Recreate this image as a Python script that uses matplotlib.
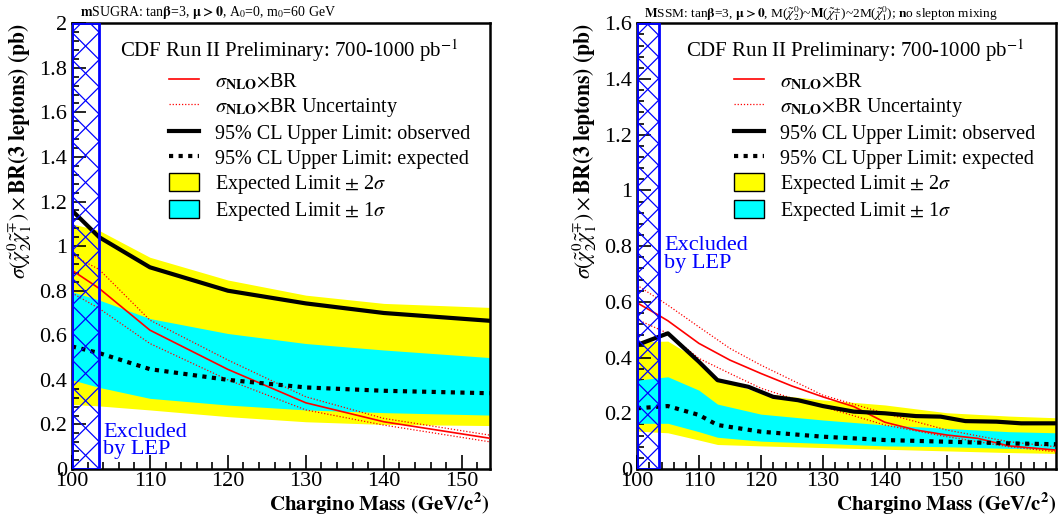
import numpy as np
import matplotlib
matplotlib.use("Agg")
import matplotlib.pyplot as plt
from matplotlib.patches import Rectangle, Patch
from matplotlib.lines import Line2D
from matplotlib.ticker import MultipleLocator

plt.rcParams['font.family'] = ['Liberation Serif', 'DejaVu Serif']
plt.rcParams['mathtext.fontset'] = 'stix'

# ---- left panel: mSUGRA ----
m_L = [100, 103.5, 110, 120, 130, 140, 153.6]
obs_L = [1.16, 1.04, 0.905, 0.80, 0.743, 0.70, 0.665]
exp_L = [0.55, 0.52, 0.448, 0.40, 0.366, 0.351, 0.34]
y2up_L = [1.10, 1.07, 0.95, 0.848, 0.78, 0.743, 0.725]
y2dn_L = [0.29, 0.283, 0.265, 0.235, 0.212, 0.20, 0.195]
c1up_L = [0.795, 0.758, 0.675, 0.608, 0.563, 0.534, 0.50]
c1dn_L = [0.40, 0.366, 0.317, 0.287, 0.265, 0.253, 0.242]
nlo_L = [0.892, 0.81, 0.623, 0.447, 0.297, 0.212, 0.138]
nloup_L = [0.96, 0.895, 0.668, 0.489, 0.324, 0.227, 0.152]
nlodn_L = [0.79, 0.72, 0.563, 0.40, 0.265, 0.197, 0.122]

# ---- right panel: MSSM ----
m_R = [100, 105, 110, 113, 118, 122, 126, 130, 135, 140, 145, 149, 153, 158, 162, 167.6]
obs_R = [0.445, 0.487, 0.385, 0.319, 0.295, 0.259, 0.247, 0.226, 0.206, 0.20, 0.19, 0.188, 0.172, 0.17, 0.164, 0.164]
m_Rb = [100, 105, 110, 113, 120, 130, 140, 150, 160, 167.6]
exp_R = [0.218, 0.226, 0.194, 0.158, 0.134, 0.116, 0.104, 0.098, 0.092, 0.089]
y2up_R = [0.457, 0.459, 0.391, 0.325, 0.272, 0.248, 0.23, 0.202, 0.19, 0.184]
y2dn_R = [0.136, 0.13, 0.104, 0.088, 0.083, 0.077, 0.071, 0.065, 0.059, 0.056]
c1up_R = [0.319, 0.331, 0.283, 0.233, 0.197, 0.176, 0.158, 0.146, 0.134, 0.13]
c1dn_R = [0.164, 0.164, 0.134, 0.114, 0.10, 0.092, 0.083, 0.08, 0.074, 0.071]
m_Rn = [100, 103.5, 105, 110, 115, 120, 125, 130, 135, 140, 145, 150, 155, 160, 167.6]
nlo_R = [0.597, 0.552, 0.532, 0.451, 0.391, 0.343, 0.298, 0.259, 0.224, 0.168, 0.14, 0.122, 0.11, 0.083, 0.068]
m_Ru = [100, 105, 110, 115, 120, 125, 130, 140, 150, 160, 167.6]
nloup_R = [0.66, 0.588, 0.51, 0.433, 0.373, 0.319, 0.265, 0.20, 0.14, 0.098, 0.08]
nlodn_R = [0.537, 0.487, 0.397, 0.343, 0.29, 0.254, 0.224, 0.158, 0.116, 0.08, 0.062]

lep_limit = 103.5

fig = plt.figure(figsize=(10.58, 5.22), dpi=100)
axL = fig.add_axes([0.068, 0.1015, 0.395, 0.854])
axR = fig.add_axes([0.602, 0.1015, 0.396, 0.854])

ylab = r'$\sigma(\tilde{\chi}^{0}_{2}\tilde{\chi}^{\mp}_{1})\times\mathbf{BR(3\ leptons)\ (pb)}$'
xlab = r'$\mathbf{Chargino\ Mass\ (GeV/c^{2})}$'
dot = (0, (1, 1.3))


def lep_box(ax, xmax, ymax):
    # blue cross-hatched band for the LEP exclusion, 45 degree lines
    bb = ax.get_position()
    wpx = bb.width * fig.get_figwidth() * fig.dpi
    hpx = bb.height * fig.get_figheight() * fig.dpi
    w = lep_limit - 100
    dy = w * (wpx / (xmax - 100)) / (hpx / ymax)
    rect = Rectangle((100, 0), w, ymax, facecolor='none', edgecolor='blue', lw=2, zorder=6)
    ax.add_patch(rect)
    y0 = -dy
    while y0 < ymax + dy:
        for ln in (ax.plot([100, lep_limit], [y0, y0 + dy], color='blue', lw=0.9, zorder=5),
                   ax.plot([100, lep_limit], [y0 + dy, y0], color='blue', lw=0.9, zorder=5)):
            ln[0].set_clip_path(rect)
        y0 += dy


def draw(ax, xmax, ymax, mb, y2u, y2d, c1u, c1d, mo, obs, me, exp, mn, nlo, mu, nup, ndn):
    ax.fill_between(mb, y2d, y2u, color='yellow', lw=0, zorder=1)
    ax.fill_between(mb, c1d, c1u, color='cyan', lw=0, zorder=2)
    ax.plot(mn, nlo, color='red', lw=1.2, zorder=3)
    ax.plot(mu, nup, color='red', lw=0.9, ls=(0, (1, 1.5)), zorder=3)
    ax.plot(mu, ndn, color='red', lw=0.9, ls=(0, (1, 1.5)), zorder=3)
    ax.plot(mo, obs, color='black', lw=3, zorder=4)
    ax.plot(me, exp, color='black', lw=3, ls=dot, zorder=4)
    ax.set_xlim(100, xmax)
    ax.set_ylim(0, ymax)
    lep_box(ax, xmax, ymax)
    ax.xaxis.set_major_locator(MultipleLocator(10))
    ax.xaxis.set_minor_locator(MultipleLocator(2))
    ax.yaxis.set_major_locator(MultipleLocator(0.2))
    ax.yaxis.set_minor_locator(MultipleLocator(0.04))
    ax.tick_params(which='both', direction='in', top=False, right=False, labelsize=16, width=1.2,
                   labelfontfamily='Liberation Serif')
    ax.tick_params(which='major', length=10)
    ax.tick_params(which='minor', length=5)
    ax.tick_params(axis='x', pad=2)
    ax.yaxis.set_major_formatter(plt.FuncFormatter(lambda v, p: ('%g' % round(v, 2))))
    for s in ax.spines.values():
        s.set_linewidth(1.8)
    ax.set_xlabel(xlab, fontsize=15, x=1, ha='right', labelpad=0)
    ax.set_ylabel(ylab, fontsize=15.5, y=1, ha='right', labelpad=4)
    ax.text(0.52, 0.968, r'CDF Run II Preliminary: 700-1000 pb$^{-1}$', transform=ax.transAxes,
            ha='center', va='top', fontsize=15)
    handles = [Line2D([], [], color='red', lw=1.2),
               Line2D([], [], color='red', lw=0.9, ls=(0, (1, 1.5))),
               Line2D([], [], color='black', lw=3),
               Line2D([], [], color='black', lw=3, ls=dot),
               Patch(facecolor='yellow', edgecolor='black', lw=1),
               Patch(facecolor='cyan', edgecolor='black', lw=1)]
    labels = [r'$\sigma_{\mathbf{NLO}}$$\times$BR', r'$\sigma_{\mathbf{NLO}}$$\times$BR Uncertainty',
              '95% CL Upper Limit: observed', '95% CL Upper Limit: expected',
              r'Expected Limit $\pm$ 2$\sigma$', r'Expected Limit $\pm$ 1$\sigma$']
    ax.legend(handles, labels, loc='upper left', bbox_to_anchor=(0.207, 0.915), frameon=False,
              fontsize=14.5, handlelength=1.5, handleheight=1.0, handletextpad=0.8,
              labelspacing=0.2, borderpad=0)


draw(axL, 153.6, 2.0, m_L, y2up_L, y2dn_L, c1up_L, c1dn_L, m_L, obs_L, m_L, exp_L,
     m_L, nlo_L, m_L, nloup_L, nlodn_L)
axL.text(104, 0.045, 'Excluded\nby LEP', color='blue', fontsize=16, linespacing=0.85, va='bottom')
fig.text(0.0756, 0.992, r'$\mathbf{m}$SUGRA: tan$\mathbf{\beta}$=3, $\mathbf{\mu}$$\mathbf{>0}$, A$_0$=0, m$_0$=60 GeV',
         ha='left', va='top', fontsize=10)

draw(axR, 167.6, 1.6, m_Rb, y2up_R, y2dn_R, c1up_R, c1dn_R, m_R, obs_R, m_Rb, exp_R,
     m_Rn, nlo_R, m_Ru, nloup_R, nlodn_R)
axR.text(104.4, 0.835, 'Excluded\nby LEP', color='blue', fontsize=16, linespacing=0.9, va='top')
fig.text(0.609, 0.992, r'$\mathbf{M}$SSM: tan$\mathbf{\beta}$=3, $\mathbf{\mu}$$\mathbf{>0}$, '
         r'M($\tilde{\chi}^{0}_{2}$)~$\mathbf{M}$($\tilde{\chi}^{\pm}_{1}$)~2M($\tilde{\chi}^{0}_{1}$); $\mathbf{n}$o slepton mixing',
         ha='left', va='top', fontsize=9.6)

fig.savefig('out.png', dpi=100)
